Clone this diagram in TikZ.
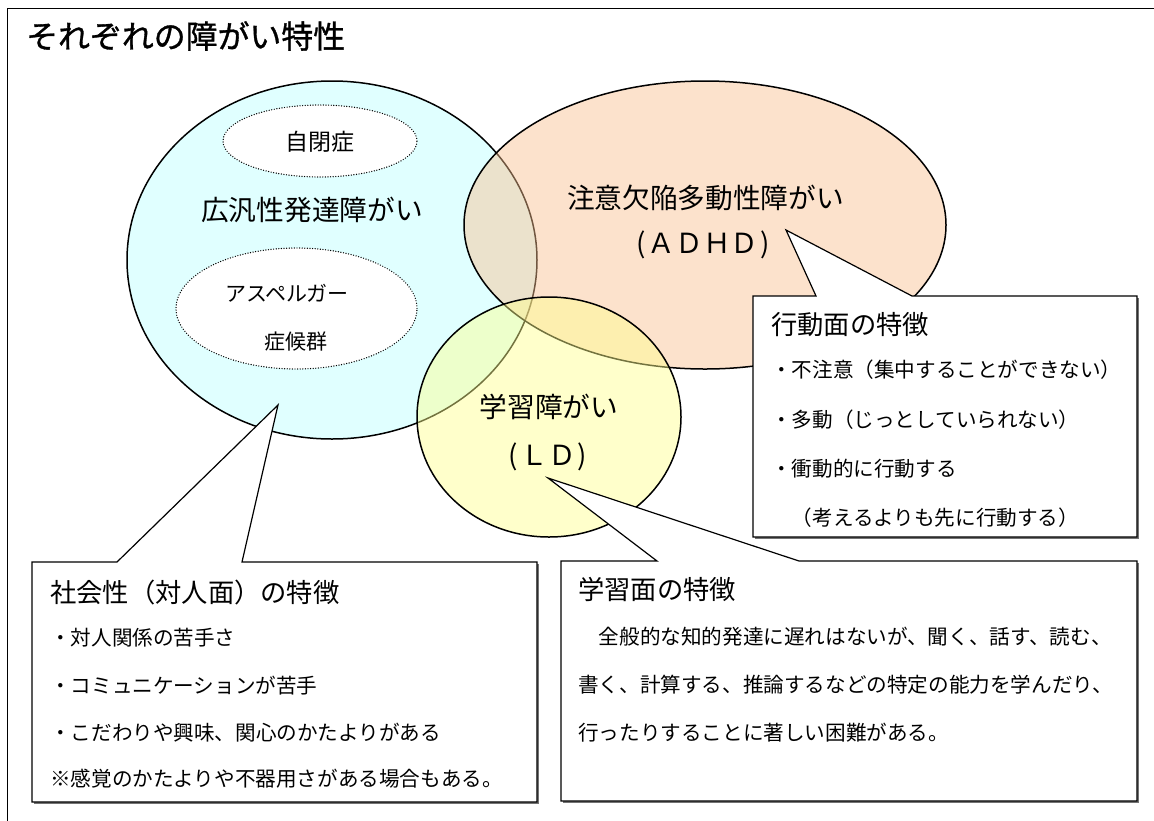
\documentclass[tikz,border=0pt]{standalone}
\usepackage{fontspec}
\setmainfont{Noto Sans CJK JP}
\newfontfamily\titlefont[FakeBold=1.0]{Noto Sans CJK JP}
\usetikzlibrary{shapes.geometric}
\definecolor{cblue}{RGB}{224,255,255}
\definecolor{corange}{RGB}{250,192,143}
\definecolor{cyellow}{RGB}{255,255,140}
\tikzset{
  txt/.style={inner sep=0pt, anchor=west, font=\fontsize{20.6}{24}\selectfont},
  head/.style={inner sep=0pt, anchor=west, font=\fontsize{26.3}{30}\selectfont},
  big/.style={inner sep=0pt, font=\fontsize{27.7}{32}\selectfont},
  mid/.style={inner sep=0pt, font=\fontsize{21}{24}\selectfont},
  bubble/.style={ellipse, draw, line width=1.5pt, inner sep=0pt},
  dotell/.style={ellipse, draw, fill=white, line width=1.4pt, line cap=round, dash pattern=on 0pt off 2.6pt, inner sep=0pt},
  callout/.style={draw, line width=1.2pt, fill=white, line join=miter},
  shadowbox/.style={fill=black!55},
}
\begin{document}
\begin{tikzpicture}[x=1pt,y=-1pt]
\useasboundingbox (0,0) rectangle (1154,820);
\fill[white] (0,0) rectangle (1154,820);
% outer frame
\coordinate (fbl) at (7.5,830);
\coordinate (ftl) at (7.5,8.5);
\coordinate (ftr) at (1160,8.5);
\draw[line width=1.8pt] (fbl) -- (ftl) -- (ftr);
\node[inner sep=0pt, anchor=west, font=\titlefont\fontsize{31.9}{36}\selectfont] (title) at (26,36) {それぞれの障がい特性};

% bubbles
\node[bubble, fill=cblue, minimum width=410pt, minimum height=358pt] (pdd) at (332,260) {};
\node[bubble, fill=corange, fill opacity=0.45, minimum width=482pt, minimum height=288pt] (adhd) at (705,225) {};
\node[bubble, fill=cyellow, fill opacity=0.45, minimum width=264pt, minimum height=240pt] (ld) at (549,417) {};

\node[dotell, minimum width=194pt, minimum height=72pt] (aut) at (320,141) {};
\node[dotell, minimum width=241pt, minimum height=121pt] (asp) at (296.5,308.5) {};

\node[inner sep=0pt, font=\fontsize{23}{26}\selectfont] (tAut) at (320,142) {自閉症};
\node[big] (tPdd) at (312,210) {広汎性発達障がい};
\node[mid] (tAsp1) at (287,293) {アスペルガー};
\node[mid] (tAsp2) at (296,342) {症候群};
\node[big] (tAdhd1) at (705.5,198) {注意欠陥多動性障がい};
\node[big] (tAdhd2) at (703,245) {\makebox[0.5em][c]{(}ＡＤＨＤ\makebox[0.5em][c]{)}};
\node[big] (tLd1) at (549,407) {学習障がい};
\node[big] (tLd2) at (548,457) {\makebox[0.5em][c]{(}ＬＤ\makebox[0.5em][c]{)}};

% callout: behaviour
\coordinate (aTL) at (753,296); \coordinate (aP1) at (816,296);
\coordinate (aTip) at (786,230); \coordinate (aP2) at (912,296);
\coordinate (aTR) at (1137,296); \coordinate (aBR) at (1137,537);
\coordinate (aBL) at (753,537);
\fill[shadowbox] ([shift={(2,2)}]aTL) rectangle ([shift={(2,2)}]aBR);
\draw[callout] (aTL) -- (aP1) -- (aTip) -- (aP2) -- (aTR) -- (aBR) -- (aBL) -- cycle;

% callout: social
\coordinate (sTL) at (32,562); \coordinate (sP1) at (117,562);
\coordinate (sTip) at (278,405); \coordinate (sP2) at (242,562);
\coordinate (sTR) at (537,562); \coordinate (sBR) at (537,802);
\coordinate (sBL) at (32,802);
\fill[shadowbox] ([shift={(2,2)}]sTL) rectangle ([shift={(2,2)}]sBR);
\draw[callout] (sTL) -- (sP1) -- (sTip) -- (sP2) -- (sTR) -- (sBR) -- (sBL) -- cycle;

% callout: learning
\coordinate (lTL) at (561,561); \coordinate (lP1) at (657,561);
\coordinate (lTip) at (548,478); \coordinate (lP2) at (799,561);
\coordinate (lTR) at (1137,561); \coordinate (lBR) at (1137,801);
\coordinate (lBL) at (561,801);
\fill[shadowbox] ([shift={(2,2)}]lTL) rectangle ([shift={(2,2)}]lBR);
\draw[callout] (lTL) -- (lP1) -- (lTip) -- (lP2) -- (lTR) -- (lBR) -- (lBL) -- cycle;

% texts: behaviour
\node[head] (aH) at (771,325) {行動面の特徴};
\node[txt] (a1) at (771,370) {・不注意（集中することができない）};
\node[txt] (a2) at (771,420) {・多動（じっとしていられない）};
\node[txt] (a3) at (771,469) {・衝動的に行動する};
\node[txt] (a4) at (771,518) {　（考えるよりも先に行動する）};

% texts: social
\node[head] (sH) at (50,592) {社会性（対人面）の特徴};
\node[txt] (s1) at (50,638) {・対人関係の苦手さ};
\node[txt] (s2) at (50,686) {・コミュニケーションが苦手};
\node[txt] (s3) at (50,733) {・こだわりや興味、関心のかたよりがある};
\node[txt] (s4) at (50,779) {※感覚のかたよりや不器用さがある場合もある。};

% texts: learning
\node[head] (lH) at (578,589) {学習面の特徴};
\node[txt] (l1) at (578,637) {　全般的な知的発達に遅れはないが、聞く、話す、読む、};
\node[txt] (l2) at (578,685) {書く、計算する、推論するなどの特定の能力を学んだり、};
\node[txt] (l3) at (578,733) {行ったりすることに著しい困難がある。};
\end{tikzpicture}
\end{document}
